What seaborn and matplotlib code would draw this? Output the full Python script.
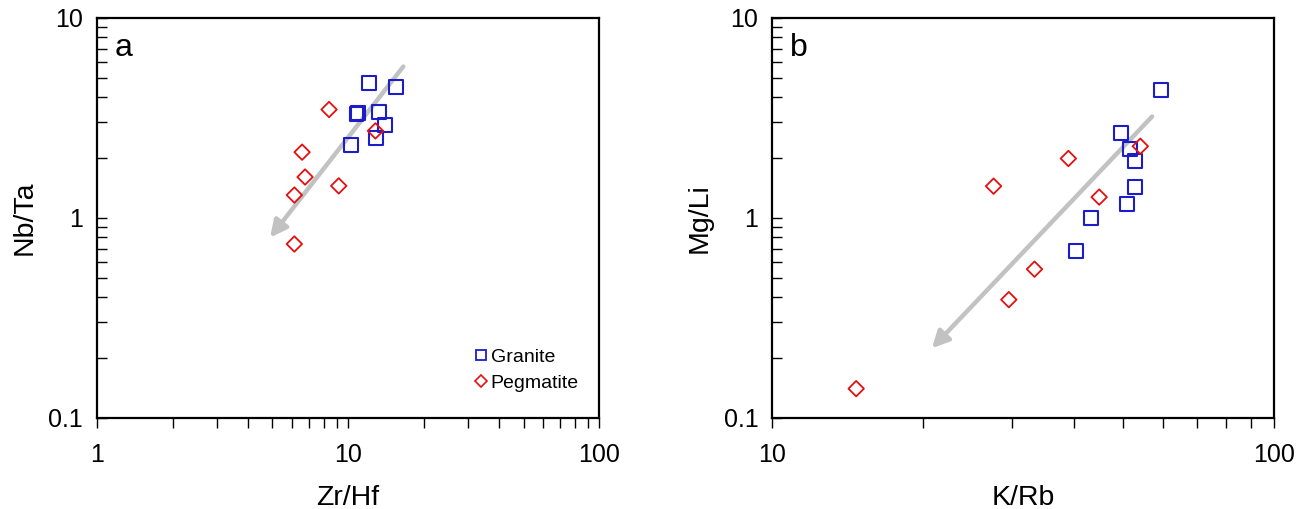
import matplotlib
matplotlib.use("Agg")
import matplotlib.pyplot as plt
from matplotlib.lines import Line2D
from matplotlib.ticker import LogLocator, FixedFormatter, FixedLocator, NullFormatter
import numpy as np
import pandas as pd
import seaborn as sns

# Panel a: Zr/Hf vs Nb/Ta
zr_hf_granite = [12.1, 15.5, 10.8, 10.95, 13.3, 14.0, 12.9, 10.3]
nb_ta_granite = [4.73, 4.52, 3.31, 3.36, 3.39, 2.92, 2.51, 2.32]
zr_hf_pegmatite = [8.4, 12.85, 6.56, 6.74, 9.18, 6.11, 6.11]
nb_ta_pegmatite = [3.48, 2.72, 2.13, 1.60, 1.445, 1.30, 0.74]
arrow_a = [(16.6, 5.71), (4.89, 0.797)]

# Panel b: K/Rb vs Mg/Li
k_rb_granite = [59.6, 49.5, 51.7, 52.8, 52.8, 50.9, 43.1, 40.2]
mg_li_granite = [4.35, 2.65, 2.22, 1.93, 1.43, 1.175, 1.0, 0.68]
k_rb_pegmatite = [54.1, 38.9, 27.6, 44.8, 33.3, 29.6, 14.7]
mg_li_pegmatite = [2.28, 1.98, 1.44, 1.27, 0.554, 0.39, 0.14]
arrow_b = [(57.1, 3.21), (20.8, 0.223)]

groups = ["Granite", "Pegmatite"]

sns.set_style("white")
plt.rcParams["font.family"] = ["Liberation Sans", "DejaVu Sans"]
plt.rcParams["text.color"] = "black"
plt.rcParams["axes.labelcolor"] = "black"
plt.rcParams["xtick.color"] = "black"
plt.rcParams["ytick.color"] = "black"

BLUE = "#1c1cc8"
RED = "#e41010"
GREY = "#c2c2c2"


def frame(x_g, y_g, x_p, y_p):
    return pd.DataFrame({
        "x": list(x_g) + list(x_p),
        "y": list(y_g) + list(y_p),
        "rock": [groups[0]] * len(x_g) + [groups[1]] * len(x_p),
    })


def draw_panel(ax, df, arrow, xlim, xlabel, ylabel, letter, xticks, xticklabels):
    ax.set_xscale("log")
    ax.set_yscale("log")
    ax.annotate("", xy=arrow[1], xytext=arrow[0],
                arrowprops=dict(arrowstyle="-|>,head_length=1.0,head_width=0.5",
                                color=GREY, lw=3.2, shrinkA=0, shrinkB=0),
                zorder=1)
    g = df[df.rock == "Granite"]
    p = df[df.rock == "Pegmatite"]
    sns.scatterplot(data=g, x="x", y="y", marker="s", s=100, facecolor="none",
                    edgecolor=BLUE, linewidth=1.5, ax=ax, legend=False, zorder=3)
    sns.scatterplot(data=p, x="x", y="y", marker="D", s=62, facecolor="none",
                    edgecolor=RED, linewidth=1.3, ax=ax, legend=False, zorder=3)
    ax.set_xlim(*xlim)
    ax.set_ylim(0.1, 10)

    ax.xaxis.set_major_locator(FixedLocator(xticks))
    ax.xaxis.set_major_formatter(FixedFormatter(xticklabels))
    ax.xaxis.set_minor_locator(LogLocator(base=10, subs=np.arange(2, 10)))
    ax.xaxis.set_minor_formatter(NullFormatter())
    ax.yaxis.set_major_locator(FixedLocator([0.1, 1, 10]))
    ax.yaxis.set_major_formatter(FixedFormatter(["0.1", "1", "10"]))
    ax.yaxis.set_minor_locator(LogLocator(base=10, subs=np.arange(2, 10)))
    ax.yaxis.set_minor_formatter(NullFormatter())

    ax.tick_params(axis="x", which="both", direction="out", length=7,
                   width=1.0, color="black", labelsize=18, pad=11,
                   bottom=True, top=False)
    ax.tick_params(axis="y", which="both", direction="in", length=7,
                   width=1.0, color="black", labelsize=18, pad=10,
                   left=True, right=False)
    for sp in ax.spines.values():
        sp.set_visible(True)
        sp.set_color("black")
        sp.set_linewidth(1.6)
    ax.set_xlabel(xlabel, fontsize=20.5, labelpad=13)
    ax.set_ylabel(ylabel, fontsize=20.5, labelpad=8)
    ax.text(0.035, 0.925, letter, transform=ax.transAxes, fontsize=23,
            ha="left", va="center")


fig = plt.figure(figsize=(13.11, 5.09), dpi=100)
ax_a = fig.add_axes([0.074, 0.179, 0.383, 0.786])
ax_b = fig.add_axes([0.589, 0.179, 0.383, 0.786])

draw_panel(ax_a, frame(zr_hf_granite, nb_ta_granite, zr_hf_pegmatite, nb_ta_pegmatite),
           arrow_a, (1, 100), "Zr/Hf", "Nb/Ta", "a", [1, 10, 100], ["1", "10", "100"])
draw_panel(ax_b, frame(k_rb_granite, mg_li_granite, k_rb_pegmatite, mg_li_pegmatite),
           arrow_b, (10, 100), "K/Rb", "Mg/Li", "b", [10, 100], ["10", "100"])

handles = [
    Line2D([], [], linestyle="none", marker="s", markersize=7.5,
           markerfacecolor="none", markeredgecolor=BLUE, markeredgewidth=1.3),
    Line2D([], [], linestyle="none", marker="D", markersize=6,
           markerfacecolor="none", markeredgecolor=RED, markeredgewidth=1.2),
]
ax_a.legend(handles, groups, loc="lower right", bbox_to_anchor=(0.975, 0.045),
            frameon=False, fontsize=14, handletextpad=0.0, handlelength=1.0,
            labelspacing=0.45, borderaxespad=0)

fig.savefig("out.png", dpi=100, facecolor="white")
